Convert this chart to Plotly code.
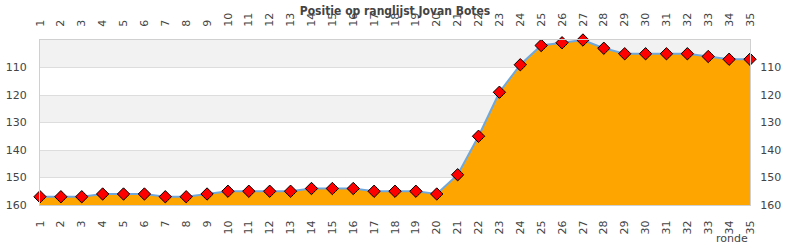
import plotly.graph_objects as go

rondes = list(range(1, 36))
positie = [157, 157, 157, 156, 156, 156, 157, 157, 156, 155,
           155, 155, 155, 154, 154, 154, 155, 155, 155, 156,
           149, 135, 119, 109, 102, 101, 100, 103, 105, 105,
           105, 105, 106, 107, 107]
y_ticks = [110, 120, 130, 140, 150, 160]
y_min, y_max = 100, 160
baseline = [y_max] * len(rondes)

W, H = 790, 250
ml, mr, mt, mb = 40, 40, 40, 45

fig = go.Figure()
fig.add_trace(go.Scatter(x=rondes, y=baseline, mode="lines",
                         line=dict(width=0, color="rgba(0,0,0,0)"),
                         hoverinfo="skip", showlegend=False))
fig.add_trace(go.Scatter(x=rondes, y=positie, mode="lines+markers",
                         fill="tonexty", fillcolor="#FFA500",
                         line=dict(color="#6FA8DC", width=2),
                         marker=dict(symbol="diamond", size=9.5, color="#FF0000",
                                     line=dict(color="#000000", width=1)),
                         showlegend=False, cliponaxis=False))
# invisible trace for secondary axes (top x / right y)
fig.add_trace(go.Scatter(x=rondes, y=positie, xaxis="x2", yaxis="y2",
                         mode="markers", marker=dict(opacity=0),
                         hoverinfo="skip", showlegend=False))

shapes = []
for lo in (100, 120, 140):
    shapes.append(dict(type="rect", xref="paper", yref="y", x0=0, x1=1,
                       y0=lo, y1=lo + 10, fillcolor="#F2F2F2",
                       line=dict(width=0), layer="below"))

tickfont = dict(family="DejaVu Sans", size=11, color="#444444")
axis_x = dict(range=[1, 35], tickmode="array", tickvals=rondes,
              ticktext=[str(r) for r in rondes], tickangle=-90,
              tickfont=tickfont, showgrid=False, zeroline=False,
              showline=True, linecolor="#D0D0D0", linewidth=1, ticks="",
              ticklabelstandoff=10, automargin=False)
axis_y = dict(range=[y_max, y_min], tickmode="array", tickvals=y_ticks,
              tickfont=tickfont, showgrid=True, gridcolor="#DDDDDD",
              gridwidth=1, zeroline=False, showline=True,
              linecolor="#D0D0D0", linewidth=1, ticks="", automargin=False)

fig.update_layout(
    width=W, height=H,
    margin=dict(l=ml, r=mr, t=mt, b=mb, pad=0, autoexpand=False),
    paper_bgcolor="white", plot_bgcolor="white",
    title=dict(text="<b>Positie op ranglijst Jovan Botes</b>", x=0.5, xanchor="center",
               y=1 - 11 / H, yanchor="middle",
               font=dict(family="DejaVu Sans Condensed, DejaVu Sans", size=12, color="#444444")),
    xaxis=dict(**axis_x, side="bottom", mirror=False),
    xaxis2=dict(**axis_x, side="top", overlaying="x", anchor="y"),
    yaxis=dict(**axis_y, side="left", ticklabelstandoff=10),
    yaxis2=dict(**{k: v for k, v in axis_y.items() if k != "showgrid"},
                showgrid=False, side="right", overlaying="y", anchor="x",
                ticklabelstandoff=7),
    shapes=shapes,
    annotations=[dict(text="ronde", xref="paper", yref="paper", x=1, y=-(238 - (H - mb)) / (H - mt - mb),
                      xanchor="right", yanchor="middle", showarrow=False,
                      font=dict(family="DejaVu Sans", size=11, color="#444444"))],
)

fig.write_html("out.html")
